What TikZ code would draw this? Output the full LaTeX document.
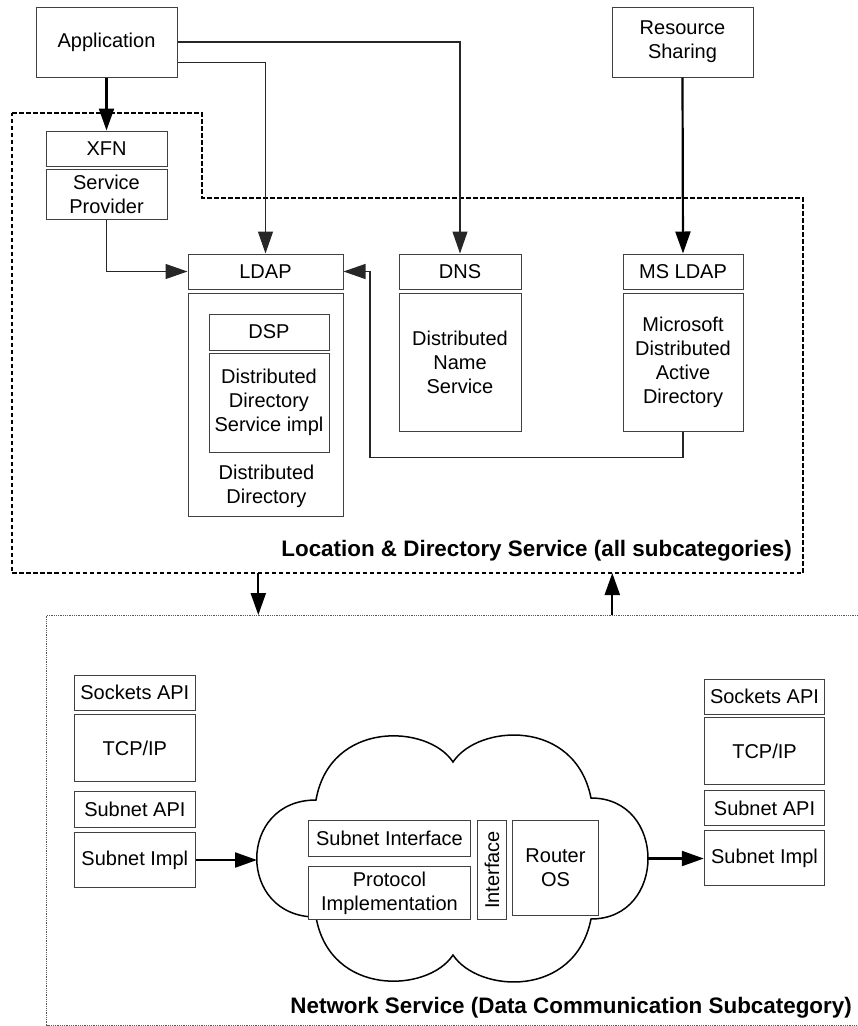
\documentclass[tikz,border=0pt]{standalone}
\usepackage{fontspec}
\setmainfont{Liberation Sans}
\usetikzlibrary{arrows.meta,calc}

\tikzset{
  box/.style={draw=black!75, line width=1pt, fill=white, inner sep=0pt,
              align=center, font=\fontsize{20}{24}\selectfont},
  plain/.style={inner sep=0pt, align=center, font=\fontsize{20}{24}\selectfont},
  tip/.style={-{Triangle[length=22pt,width=15pt]}},
  thinlink/.style={tip, draw=black!85, line width=1.1pt},
  thicklink/.style={tip, draw=black, line width=2.2pt},
  groupline/.style={draw=black, line width=1.3pt, dash pattern=on 4.5pt off 2.5pt},
  netline/.style={draw=black!65, line width=0.9pt, dash pattern=on 1pt off 0.8pt},
  caption/.style={inner sep=0pt, font=\fontsize{22.4}{26}\selectfont\bfseries},
}

\begin{document}
\begin{tikzpicture}[x=1pt, y=-1pt]
\useasboundingbox (0,0) rectangle (858,1026);

% ---- Location & Directory Service group outline
\draw[groupline] (12,113) -- (202,113) -- (202,198) -- (803,198) -- (803,573) -- (12,573) -- cycle;
\node[caption, anchor=base east] (locLabel) at (792,556)
  {Location \& Directory Service (all subcategories)};

% ---- clients
\node[box, minimum width=141, minimum height=70] (app) at (106.5,42) {Application};
\node[box, minimum width=141, minimum height=70] (res) at (682.5,42) {Resource\\Sharing};

% ---- XFN stack
\node[box, minimum width=121, minimum height=35] (xfn) at (106.5,148.5) {XFN};
\node[box, minimum width=121, minimum height=50] (sp) at (106.5,194) {Service\\Provider};

% ---- LDAP stack
\node[box, minimum width=155, minimum height=35] (ldap) at (265.5,271.5) {LDAP};
\node[box, minimum width=155, minimum height=223] (ldapbody) at (265.5,404.5) {};
\node[box, minimum width=120, minimum height=36] (dsp) at (269,332) {DSP};
\node[box, minimum width=120, minimum height=99] (ddsi) at (269,402.5)
  {Distributed\\Directory\\Service impl};
\node[plain] (ddtext) at (266.5,486) {Distributed\\Directory};

% ---- DNS stack
\node[box, minimum width=122, minimum height=35] (dns) at (460,271.5) {DNS};
\node[box, minimum width=122, minimum height=138] (dnsbody) at (460,362)
  {Distributed\\Name\\Service};

% ---- MS LDAP stack
\node[box, minimum width=120, minimum height=35] (msldap) at (683,271.5) {MS LDAP};
\node[box, minimum width=120, minimum height=138] (msbody) at (683,362)
  {Microsoft\\Distributed\\Active\\Directory};

% ---- connectors in the upper part
\draw[thicklink] (app.south) -- (xfn.north);
\draw[thinlink] ([yshift=-20.7pt]app.east) -| (ldap.north);
\draw[thinlink] (app.east) -| (dns.north);
\draw[thinlink] (sp.south) |- (ldap.west);
\draw[thicklink] (res.south) -- (msldap.north);
\coordinate (bend) at (370,457.7);
\draw[thinlink] (msbody.south) |- (bend) |- (ldap.east);

% ---- Network Service group outline (open to the right)
\draw[netline] (858,615) -- (46.7,615) -- (46.7,1025) -- (858,1025);
\node[caption, anchor=base east] (netLabel) at (852,1013)
  {Network Service (Data Communication Subcategory)};

\coordinate (downTop) at (258.3,573);
\coordinate (downBot) at (258.3,615);
\coordinate (upBot) at (612.3,615);
\coordinate (upTop) at (612.3,573);
\draw[thicklink] (downTop) -- (downBot);
\draw[thicklink] (upBot) -- (upTop);

% ---- cloud
\draw[line width=1.5pt, fill=white]
  (316,800) .. controls (330,720) and (428,724) .. (453,762)
            .. controls (478,724) and (575,718) .. (591,798)
            .. controls (667,798) and (667,919) .. (591,919)
            .. controls (575,999) and (478,993) .. (453,955)
            .. controls (428,993) and (330,997) .. (316,917)
            .. controls (237,917) and (237,800) .. (316,800) -- cycle;
\coordinate (cloudW) at (257,859);
\coordinate (cloudE) at (648,858.5);

\node[box, minimum width=162.4, minimum height=35.3] (subif) at (389.5,838.35) {Subnet Interface};
\node[box, minimum width=162.4, minimum height=52.3] (proto) at (389.5,892.85) {Protocol\\Implementation};
\node[box, minimum width=28.6, minimum height=98.3] (iface) at (492,869.85) {\rotatebox{90}{Interface}};
\node[box, minimum width=85.6, minimum height=94.3] (router) at (555.5,867.85) {Router\\OS};

% ---- left host stack
\node[box, minimum width=120.3, minimum height=35] (sockL) at (134.85,692.8) {Sockets API};
\node[box, minimum width=120.3, minimum height=67.4] (tcpL) at (134.85,748) {TCP/IP};
\node[box, minimum width=120.3, minimum height=35.6] (subapiL) at (134.85,809.5) {Subnet API};
\node[box, minimum width=120.3, minimum height=54.6] (subimplL) at (134.85,860) {Subnet Impl};

% ---- right host stack
\node[box, minimum width=120.4, minimum height=35] (sockR) at (764.5,696.5) {Sockets API};
\node[box, minimum width=120.4, minimum height=67] (tcpR) at (764.5,751.2) {TCP/IP};
\node[box, minimum width=120.4, minimum height=35.4] (subapiR) at (764.5,808) {Subnet API};
\node[box, minimum width=120.4, minimum height=55] (subimplR) at (764.5,858.2) {Subnet Impl};

% ---- data path through the cloud
\draw[thicklink] (subimplL.east) -- (subimplL.east -| cloudW);
\draw[thicklink] (cloudE) -- (cloudE -| subimplR.west);

\end{tikzpicture}
\end{document}
